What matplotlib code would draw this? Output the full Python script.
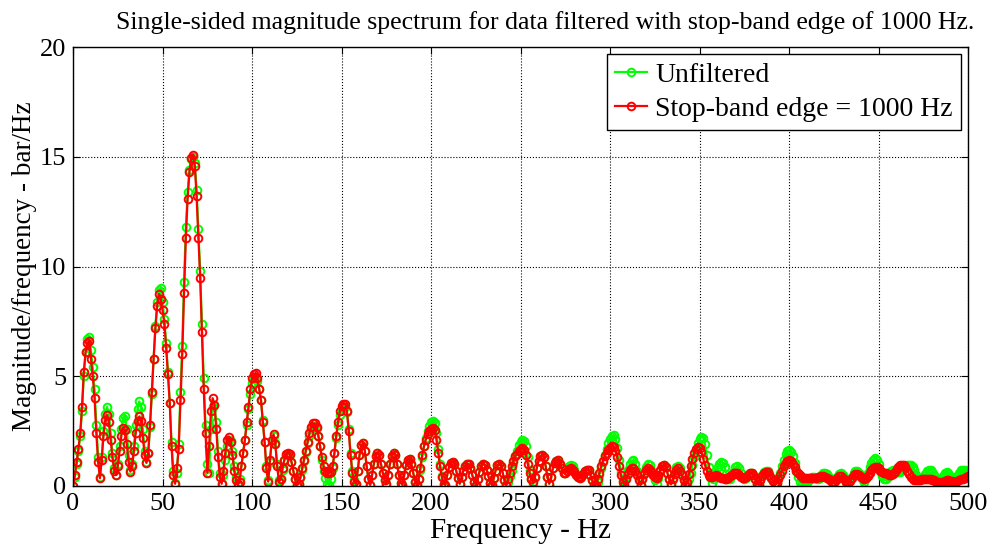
import matplotlib
matplotlib.use("Agg")
import matplotlib.pyplot as plt
import numpy as np

# frequency bins, 1 Hz apart
freq = np.arange(0, 501)

# single-sided magnitude, unfiltered
unfiltered = [
    0, 0.4, 1.0, 1.6, 2.3, 3.4, 5.0, 6.1, 6.7, 6.8,
    6.2, 5.4, 4.4, 2.8, 1.3, 0.4, 1.3, 2.5, 3.3, 3.6,
    3.3, 2.4, 1.5, 0.8, 0.5, 1.0, 1.8, 2.6, 3.1, 3.2,
    2.6, 1.4, 0.75, 1.0, 1.8, 2.8, 3.5, 3.85, 3.6, 2.6,
    1.6, 1.1, 1.5, 2.7, 4.2, 5.8, 7.3, 8.4, 8.95, 9.0,
    8.4, 7.6, 6.5, 5.2, 3.8, 2.0, 0.7, 0.15, 0.6, 1.9,
    4.3, 6.4, 9.3, 11.8, 13.4, 14.4, 14.9, 15.0, 14.7, 13.5,
    11.7, 9.8, 7.4, 4.9, 2.8, 1.0, 0.6, 2.6, 3.6, 3.7,
    2.9, 1.6, 0.6, 0.15, 0.5, 1.2, 1.8, 2.1, 2.05, 1.6,
    0.9, 0.4, 0.1, 0.3, 0.9, 1.5, 2.1, 2.8, 3.5, 4.2,
    4.7, 4.9, 4.95, 4.8, 4.4, 3.9, 3.0, 2.0, 0.9, 0.25,
    1.1, 2.0, 2.3, 1.95, 1.0, 0.25, 0.3, 0.75, 1.15, 1.4,
    1.45, 1.4, 1.1, 0.7, 0.3, 0.05, 0.1, 0.35, 0.75, 1.15,
    1.55, 1.95, 2.3, 2.6, 2.75, 2.75, 2.65, 2.3, 1.8, 1.2,
    0.7, 0.35, 0.1, 0.05, 0.3, 0.8, 1.5, 2.2, 2.8, 3.25,
    3.5, 3.6, 3.6, 3.35, 2.6, 1.5, 0.7, 0.25, 0.1, 0.7,
    1.4, 1.85, 1.95, 1.6, 0.9, 0.3, 0.05, 0.5, 1.0, 1.35,
    1.5, 1.4, 1.0, 0.6, 0.25, 0.1, 0.5, 1.0, 1.35, 1.5,
    1.4, 1.0, 0.5, 0.15, 0.05, 0.5, 0.95, 1.2, 1.25, 1.0,
    0.6, 0.2, 0.05, 0.3, 0.75, 1.3, 1.8, 2.2, 2.5, 2.75,
    2.9, 2.94, 2.85, 2.4, 1.7, 1.0, 0.45, 0.1, 0.05, 0.5,
    0.85, 1.05, 1.1, 1.0, 0.7, 0.35, 0.1, 0.4, 0.7, 0.9,
    1.0, 1.0, 0.8, 0.5, 0.2, 0.05, 0.3, 0.65, 0.9, 1.0,
    0.95, 0.75, 0.45, 0.15, 0.05, 0.35, 0.7, 0.95, 1.0, 0.9,
    0.6, 0.25, 0.05, 0.2, 0.45, 0.75, 1.05, 1.35, 1.6, 1.85,
    2.0, 2.1, 2.05, 1.8, 1.3, 0.75, 0.3, 0.05, 0.4, 0.8,
    1.15, 1.35, 1.4, 1.3, 0.9, 0.4, 0.1, 0.4, 0.8, 1.05,
    1.15, 1.2, 1.0, 0.8, 0.6, 0.6, 0.75, 0.9, 0.95, 0.9,
    0.75, 0.55, 0.4, 0.35, 0.4, 0.55, 0.68, 0.73, 0.72, 0.5,
    0.25, 0.05, 0.05, 0.2, 0.5, 0.8, 1.1, 1.4, 1.7, 1.95,
    2.15, 2.3, 2.32, 2.15, 1.75, 1.2, 0.65, 0.25, 0.05, 0.4,
    0.75, 1.0, 1.15, 1.18, 1.0, 0.7, 0.35, 0.05, 0.3, 0.6,
    0.85, 1.0, 0.95, 0.75, 0.5, 0.25, 0.1, 0.35, 0.7, 0.9,
    0.95, 0.85, 0.6, 0.3, 0.08, 0.35, 0.65, 0.85, 0.9, 0.8,
    0.55, 0.25, 0.05, 0.1, 0.3, 0.6, 0.95, 1.3, 1.65, 1.95,
    2.15, 2.25, 2.2, 1.9, 1.4, 0.85, 0.4, 0.15, 0.3, 0.6,
    0.85, 1.0, 1.1, 1.05, 0.85, 0.55, 0.3, 0.3, 0.5, 0.7,
    0.85, 0.9, 0.8, 0.6, 0.4, 0.3, 0.38, 0.5, 0.58, 0.6,
    0.52, 0.32, 0.1, 0.05, 0.25, 0.48, 0.62, 0.7, 0.68, 0.55,
    0.38, 0.22, 0.15, 0.15, 0.35, 0.6, 0.9, 1.2, 1.45, 1.6,
    1.64, 1.55, 1.35, 1.05, 0.7, 0.4, 0.2, 0.1, 0.1, 0.1,
    0.15, 0.25, 0.35, 0.4, 0.4, 0.35, 0.3, 0.38, 0.5, 0.58,
    0.6, 0.55, 0.42, 0.28, 0.18, 0.15, 0.25, 0.42, 0.55, 0.6,
    0.52, 0.35, 0.2, 0.15, 0.25, 0.42, 0.6, 0.7, 0.7, 0.6,
    0.42, 0.25, 0.2, 0.35, 0.6, 0.85, 1.05, 1.2, 1.26, 1.2,
    1.0, 0.72, 0.45, 0.3, 0.3, 0.42, 0.58, 0.7, 0.75, 0.72,
    0.65, 0.62, 0.65, 0.75, 0.85, 0.92, 0.95, 0.95, 0.95, 0.88,
    0.72, 0.5, 0.35, 0.3, 0.3, 0.4, 0.55, 0.68, 0.75, 0.75,
    0.65, 0.48, 0.3, 0.2, 0.2, 0.3, 0.45, 0.6, 0.65, 0.6,
    0.45, 0.3, 0.25, 0.3, 0.45, 0.6, 0.72, 0.75, 0.73, 0.7,
    0.65,
]

# after low-pass filter (stop-band edge 1000 Hz)
filtered = [
    0, 0.5, 1.1, 1.7, 2.4, 3.6, 5.2, 6.1, 6.5, 6.6,
    5.8, 5.0, 4.0, 2.4, 1.1, 0.35, 1.2, 2.3, 3.0, 3.24,
    2.9, 2.1, 1.3, 0.7, 0.5, 0.9, 1.6, 2.3, 2.65, 2.55,
    1.9, 1.1, 0.65, 0.9, 1.6, 2.4, 2.95, 3.17, 2.95, 2.2,
    1.4, 1.05, 1.5, 2.8, 4.3, 5.8, 7.2, 8.2, 8.75, 8.5,
    8.0, 7.4, 6.3, 5.1, 3.8, 1.8, 0.5, 0.1, 0.8, 1.7,
    3.9, 6.0, 8.8, 11.3, 13.1, 14.3, 14.95, 15.1, 14.6, 13.2,
    11.3, 9.5, 7.0, 4.4, 2.4, 0.6, 1.8, 3.4, 4.0, 3.7,
    2.6, 1.3, 0.4, 0.1, 0.7, 1.5, 2.1, 2.25, 2.0, 1.4,
    0.7, 0.25, 0.1, 0.2, 0.9, 1.5, 2.1, 2.9, 3.6, 4.4,
    4.9, 5.1, 5.15, 4.9, 4.4, 3.9, 2.9, 2.0, 0.8, 0.2,
    1.2, 2.1, 2.35, 1.9, 0.9, 0.2, 0.3, 0.8, 1.2, 1.45,
    1.5, 1.45, 1.1, 0.7, 0.3, 0.05, 0.1, 0.4, 0.8, 1.2,
    1.6, 2.0, 2.4, 2.7, 2.85, 2.85, 2.7, 2.3, 1.8, 1.3,
    0.9, 0.7, 0.6, 0.6, 0.65, 0.9, 1.5, 2.3, 2.9, 3.4,
    3.65, 3.75, 3.75, 3.4, 2.5, 1.4, 0.6, 0.2, 0.1, 0.7,
    1.4, 1.85, 1.95, 1.6, 0.9, 0.3, 0.05, 0.5, 1.0, 1.35,
    1.5, 1.4, 1.0, 0.6, 0.25, 0.1, 0.5, 1.0, 1.35, 1.5,
    1.4, 1.0, 0.5, 0.15, 0.05, 0.5, 0.95, 1.2, 1.25, 1.0,
    0.6, 0.2, 0.05, 0.3, 0.8, 1.4, 1.8, 2.1, 2.35, 2.5,
    2.6, 2.63, 2.55, 2.1, 1.5, 0.9, 0.4, 0.1, 0.05, 0.5,
    0.85, 1.05, 1.1, 1.0, 0.7, 0.35, 0.1, 0.4, 0.7, 0.9,
    1.0, 1.0, 0.8, 0.5, 0.2, 0.05, 0.3, 0.65, 0.9, 1.0,
    0.95, 0.75, 0.45, 0.15, 0.05, 0.35, 0.7, 0.95, 1.0, 0.9,
    0.6, 0.25, 0.05, 0.3, 0.6, 0.9, 1.15, 1.35, 1.45, 1.6,
    1.7, 1.72, 1.65, 1.4, 1.0, 0.6, 0.3, 0.2, 0.4, 0.8,
    1.15, 1.35, 1.4, 1.3, 0.9, 0.4, 0.1, 0.4, 0.8, 1.05,
    1.15, 1.2, 1.0, 0.8, 0.6, 0.6, 0.7, 0.78, 0.8, 0.75,
    0.65, 0.5, 0.4, 0.35, 0.4, 0.55, 0.68, 0.73, 0.72, 0.5,
    0.25, 0.05, 0.05, 0.3, 0.6, 0.9, 1.15, 1.35, 1.5, 1.65,
    1.75, 1.8, 1.78, 1.6, 1.3, 0.9, 0.5, 0.2, 0.05, 0.3,
    0.55, 0.72, 0.8, 0.8, 0.7, 0.5, 0.25, 0.05, 0.3, 0.55,
    0.75, 0.8, 0.75, 0.65, 0.5, 0.4, 0.35, 0.5, 0.75, 0.93,
    0.95, 0.85, 0.6, 0.3, 0.08, 0.3, 0.55, 0.75, 0.8, 0.7,
    0.5, 0.25, 0.05, 0.2, 0.55, 0.9, 1.25, 1.5, 1.7, 1.79,
    1.75, 1.55, 1.25, 0.95, 0.7, 0.5, 0.42, 0.42, 0.45, 0.48,
    0.45, 0.4, 0.38, 0.35, 0.33, 0.33, 0.38, 0.45, 0.52, 0.58,
    0.6, 0.58, 0.5, 0.42, 0.37, 0.35, 0.4, 0.5, 0.58, 0.6,
    0.5, 0.3, 0.1, 0.05, 0.25, 0.45, 0.6, 0.65, 0.62, 0.5,
    0.35, 0.22, 0.15, 0.15, 0.3, 0.5, 0.7, 0.9, 1.05, 1.15,
    1.18, 1.12, 1.0, 0.85, 0.7, 0.58, 0.5, 0.42, 0.38, 0.35,
    0.35, 0.35, 0.35, 0.35, 0.36, 0.38, 0.4, 0.42, 0.45, 0.45,
    0.42, 0.38, 0.3, 0.25, 0.2, 0.2, 0.28, 0.38, 0.45, 0.45,
    0.38, 0.28, 0.18, 0.15, 0.22, 0.35, 0.48, 0.55, 0.55, 0.5,
    0.42, 0.35, 0.3, 0.35, 0.45, 0.6, 0.72, 0.8, 0.85, 0.85,
    0.8, 0.7, 0.62, 0.6, 0.6, 0.55, 0.5, 0.5, 0.55, 0.65,
    0.78, 0.88, 0.94, 0.96, 0.94, 0.85, 0.7, 0.55, 0.42, 0.32,
    0.27, 0.25, 0.25, 0.27, 0.3, 0.3, 0.3, 0.3, 0.3, 0.3,
    0.28, 0.25, 0.2, 0.17, 0.15, 0.17, 0.2, 0.24, 0.25, 0.25,
    0.23, 0.21, 0.2, 0.2, 0.22, 0.26, 0.3, 0.34, 0.38, 0.42,
    0.45,
]

plt.rcParams['font.family'] = ['Liberation Serif', 'DejaVu Serif']

fig = plt.figure(figsize=(9.94, 5.5), dpi=100)
ax = fig.add_axes([0.0735, 0.1164, 0.9005, 0.798])

ax.plot(freq, unfiltered, color='#00ff00', marker='o', markersize=5.5, markerfacecolor='none',
        markeredgewidth=1.4, linewidth=1.6, label='Unfiltered')
ax.plot(freq, filtered, color='#ff0000', marker='o', markersize=5.5, markerfacecolor='none',
        markeredgewidth=1.4, linewidth=1.6, label='Stop-band edge = 1000 Hz')

ax.set_xlim(0, 500)
ax.set_ylim(0, 20)
ax.set_xticks(np.arange(0, 501, 50))
ax.set_yticks(np.arange(0, 21, 5))
ax.grid(True, color='black', linestyle=':', linewidth=0.8)
ax.tick_params(direction='in', top=True, right=True, labelsize=19, length=5, pad=5)
for s in ax.spines.values():
    s.set_linewidth(1.0)

ax.set_xlabel('Frequency - Hz', fontsize=21, labelpad=2)
ax.set_ylabel('Magnitude/frequency - bar/Hz', fontsize=19.5, labelpad=2)
ax.set_title('Single-sided magnitude spectrum for data filtered with stop-band edge of 1000 Hz.',
             fontsize=18.6, pad=13, x=0.527)

leg = ax.legend(loc='upper right', fontsize=20, numpoints=1, fancybox=False, framealpha=1,
                edgecolor='black', borderaxespad=0.25, handlelength=1.15, borderpad=0.3,
                labelspacing=0.3, handletextpad=0.3)
leg.get_frame().set_linewidth(1.0)

plt.savefig('out.png', dpi=100)
